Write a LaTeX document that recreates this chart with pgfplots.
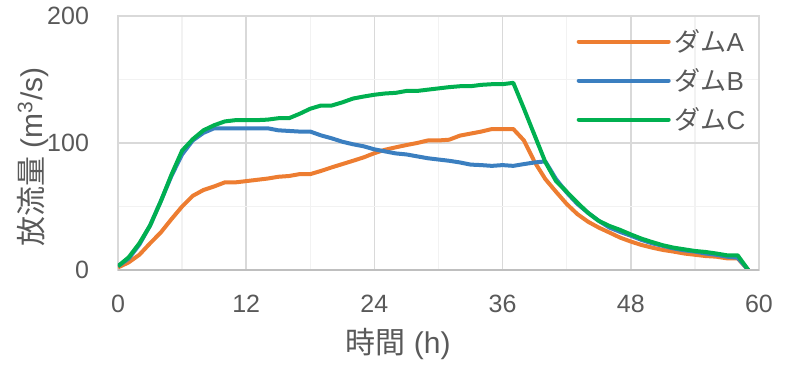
\documentclass[border=0pt]{standalone}
\usepackage{pgfplots}
\pgfplotsset{compat=1.18}
\usepackage{fontspec}
\setmainfont{Liberation Sans}
\newfontfamily\jp{Noto Sans CJK JP}
\definecolor{cA}{HTML}{ED7D31}
\definecolor{cB}{HTML}{3B7FC0}
\definecolor{cC}{HTML}{00B050}
\definecolor{txt}{HTML}{595959}
\definecolor{gmaj}{HTML}{D9D9D9}
\definecolor{gmin}{HTML}{F2F2F2}
\definecolor{axl}{HTML}{BFBFBF}
\begin{document}
\begin{tikzpicture}
\path[use as bounding box] (-59pt,-50.5pt) rectangle (342.5pt,135pt);
\begin{axis}[
  at={(0,0)}, anchor=south west,
  width=320.5pt, height=127pt, scale only axis,
  xmin=0, xmax=60, ymin=0, ymax=200,
  xtick={0,12,...,60}, ytick={0,100,200},
  minor xtick={6,18,...,54}, minor ytick={50,150},
  grid=both,
  major grid style={gmaj, line width=0.75pt},
  minor grid style={gmin, line width=0.75pt},
  major tick length=0pt, minor tick length=0pt,
  axis line style={gmaj, line width=0.75pt},
  /pgf/number format/assume math mode=true,
  tick label style={font=\fontsize{12.5}{14}\selectfont, text=txt},
  xticklabel style={yshift=-9pt},
  yticklabel style={xshift=-11pt},
  xlabel={{\jp 時間} (h)},
  ylabel={{\jp 放流量} (m\textsuperscript{3}/s)},
  label style={font=\fontsize{15}{17}\selectfont, text=txt},
  xlabel style={at={(axis description cs:0.437,-0.29)}, anchor=center},
  ylabel style={at={(axis description cs:-0.132,0.445)}, anchor=center},
  legend style={at={(axis description cs:0.715,0.966)}, anchor=north west, draw=none, fill=none,
    font=\fontsize{13}{15}\selectfont, text=txt, inner sep=0pt, row sep=3pt,
    /tikz/every even column/.append style={column sep=6pt}},
  legend cell align=left,
  legend image code/.code={\draw[#1, line cap=round] (0pt,0pt) -- (45pt,0pt);},
  every axis plot/.append style={line width=2pt, line join=round},
]
\addplot[cA] coordinates {
(0,2)(1,6)(2,12)(3,21)(4,29.5)(5,40)(6,50)(7,58.4)(8,63)(9,65.8)(10,69)(11,69)(12,70)(13,71)(14,72)(15,73.4)(16,74)(17,75.5)(18,75.5)(19,78)(20,80.8)(21,83.4)(22,86)(23,88.7)(24,92)(25,94.7)(26,96.6)(27,98.4)(28,100)(29,102)(30,102)(31,102.6)(32,105.8)(33,107.4)(34,109)(35,111)(36,111)(37,111)(38,102)(39,85)(40,71.6)(41,61.6)(42,52)(43,44)(44,38)(45,33.4)(46,29.5)(47,25.5)(48,22.4)(49,19.7)(50,17.6)(51,15.8)(52,14.5)(53,13)(54,12)(55,11)(56,10.5)(57,9.2)(58,9.2)(59,0)
};
\addlegendentry{{\jp ダム}A}
\addplot[cB] coordinates {
(0,3)(1,9)(2,20)(3,35)(4,54)(5,74)(6,91)(7,102)(8,108)(9,111.6)(10,111.6)(11,111.6)(12,111.6)(13,111.6)(14,111.6)(15,110)(16,109.5)(17,109)(18,109)(19,106)(20,103.7)(21,101)(22,99)(23,97.4)(24,95)(25,93.4)(26,91.8)(27,91)(28,89.5)(29,88)(30,87)(31,86)(32,84.7)(33,83)(34,82.6)(35,82)(36,82.6)(37,82)(38,83.4)(39,84.7)(40,85.5)(41,71.6)(42,61)(43,52)(44,45)(45,38.7)(46,33.4)(47,30)(48,27)(49,23.7)(50,21)(51,19)(52,17)(53,15.5)(54,14.5)(55,13)(56,12)(57,10.5)(58,9.7)(59,0)
};
\addlegendentry{{\jp ダム}B}
\addplot[cC] coordinates {
(0,3)(1,10)(2,21)(3,35)(4,54)(5,75)(6,94)(7,103)(8,110)(9,114)(10,117)(11,118)(12,118)(13,118)(14,118.4)(15,119.5)(16,119.5)(17,123)(18,127)(19,129.5)(20,129.5)(21,132)(22,135)(23,136.6)(24,138)(25,139)(26,139.5)(27,141)(28,141)(29,142)(30,143)(31,144)(32,144.7)(33,144.7)(34,145.8)(35,146.3)(36,146.3)(37,147.4)(38,127)(39,106)(40,85)(41,70)(42,61.6)(43,53)(44,45)(45,38.7)(46,34.7)(47,31.6)(48,28)(49,24.7)(50,22)(51,19.5)(52,17.6)(53,16.3)(54,15)(55,14.2)(56,13)(57,11.6)(58,11.6)(59,0)
};
\addlegendentry{{\jp ダム}C}
\draw[axl, line width=0.75pt] (rel axis cs:0,0) -- (rel axis cs:1,0);
\end{axis}
\end{tikzpicture}
\end{document}
